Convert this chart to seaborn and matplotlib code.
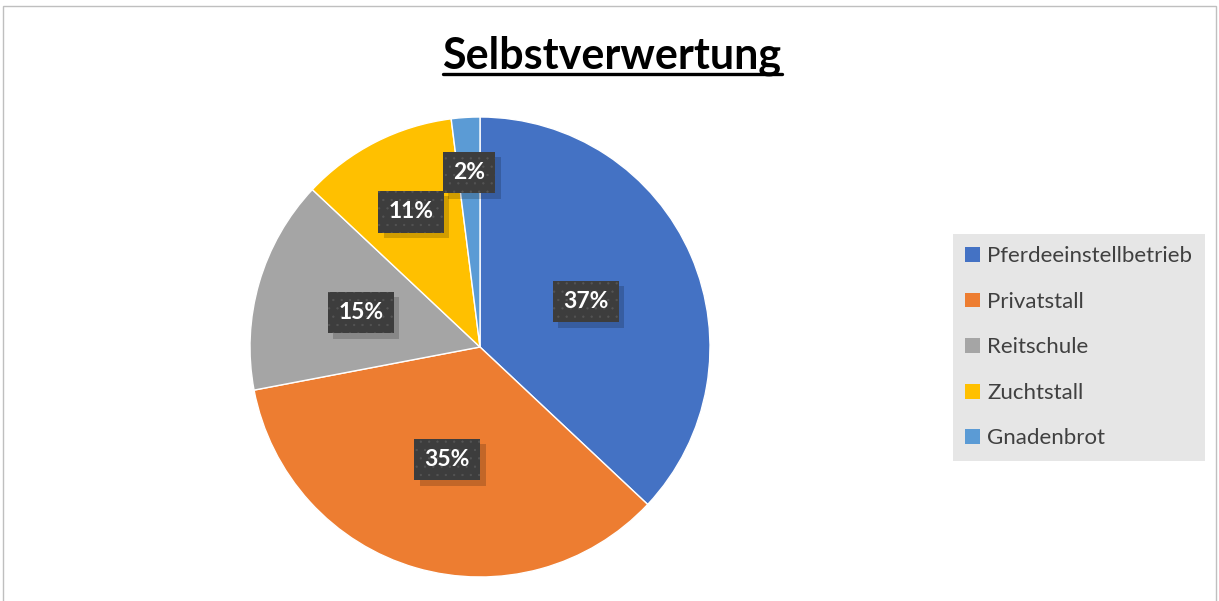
import matplotlib
matplotlib.use("Agg")
import matplotlib.pyplot as plt
import matplotlib.patheffects as pe
from matplotlib.patches import Rectangle
from matplotlib.lines import Line2D
import numpy as np
import seaborn as sns

categories = ["Pferdeeinstellbetrieb", "Privatstall", "Reitschule", "Zuchtstall", "Gnadenbrot"]
shares = [37, 35, 15, 11, 2]
colors = ["#4472C4", "#ED7D31", "#A5A5A5", "#FFC000", "#5B9BD5"]
title = "Selbstverwertung"

sns.set_theme(style="white")
plt.rcParams["font.family"] = ["Lato", "DejaVu Sans"]
plt.rcParams["hatch.linewidth"] = 0.4

W, H = 1219, 601
fig = plt.figure(figsize=(W / 100, H / 100), dpi=100)

# chart border
fig.patches.append(Rectangle((3 / W, -0.01), (1216 - 3) / W, 1 - 6 / H + 0.01,
                             transform=fig.transFigure, fill=False,
                             edgecolor="#bfbfbf", lw=1))

cx, cy, r = 480, 347, 230
ax = fig.add_axes([(cx - r) / W, (H - cy - r) / H, 2 * r / W, 2 * r / H])
wedges, _ = ax.pie(shares, colors=sns.color_palette(colors), startangle=90,
                   counterclock=False, radius=1,
                   wedgeprops=dict(edgecolor="white", linewidth=1))
ax.set_xlim(-1, 1)
ax.set_ylim(-1, 1)
ax.set_aspect("equal")
ax.axis("off")

# data labels in dark boxes, soft shadow drawn as a plain box underneath
dist = [0.5, 0.51, 0.54, 0.66, 0.76]
for w, v, d in zip(wedges, shares, dist):
    ang = np.deg2rad((w.theta1 + w.theta2) / 2)
    x, y = d * np.cos(ang), d * np.sin(ang)
    s = ax.text(x, y, f"{v}%", ha="center", va="center", color="none",
                fontsize=16.5, fontweight="bold", zorder=4,
                bbox=dict(boxstyle="square,pad=0.45", facecolor="black",
                          edgecolor="none", alpha=0.22))
    s.get_bbox_patch().set_path_effects([
        pe.SimplePatchShadow(offset=(4, -4), shadow_rgbFace="#000000", alpha=0.18)])
    ax.text(x, y, f"{v}%", ha="center", va="center",
            color="white", fontsize=16.5, fontweight="bold", zorder=5,
            bbox=dict(boxstyle="square,pad=0.45", facecolor="#3d3d3d",
                      edgecolor="#555555", lw=0, hatch=".."))

# title with underline
tt = fig.text(612 / W, 1 - 56 / H, title, ha="center", va="center",
              fontsize=31, fontweight="bold", color="black")
fig.canvas.draw()
bb = tt.get_window_extent().transformed(fig.transFigure.inverted())
uy = 1 - 74 / H
fig.lines.append(Line2D([bb.x0, bb.x1], [uy, uy], transform=fig.transFigure,
                        color="black", lw=2.4))

leg = fig.legend(wedges, categories, loc="upper left",
                 bbox_to_anchor=(953 / W, 1 - 234 / H), borderaxespad=0,
                 fontsize=16, frameon=True, facecolor="#e6e6e6", edgecolor="none",
                 framealpha=1, fancybox=False, handlelength=0.65, handleheight=0.65,
                 handletextpad=0.35, labelspacing=1.15, borderpad=0.55)
for txt in leg.get_texts():
    txt.set_color("#404040")
for h in leg.legend_handles:
    h.set_edgecolor("none")

fig.savefig("out.png", dpi=100, facecolor="white")
